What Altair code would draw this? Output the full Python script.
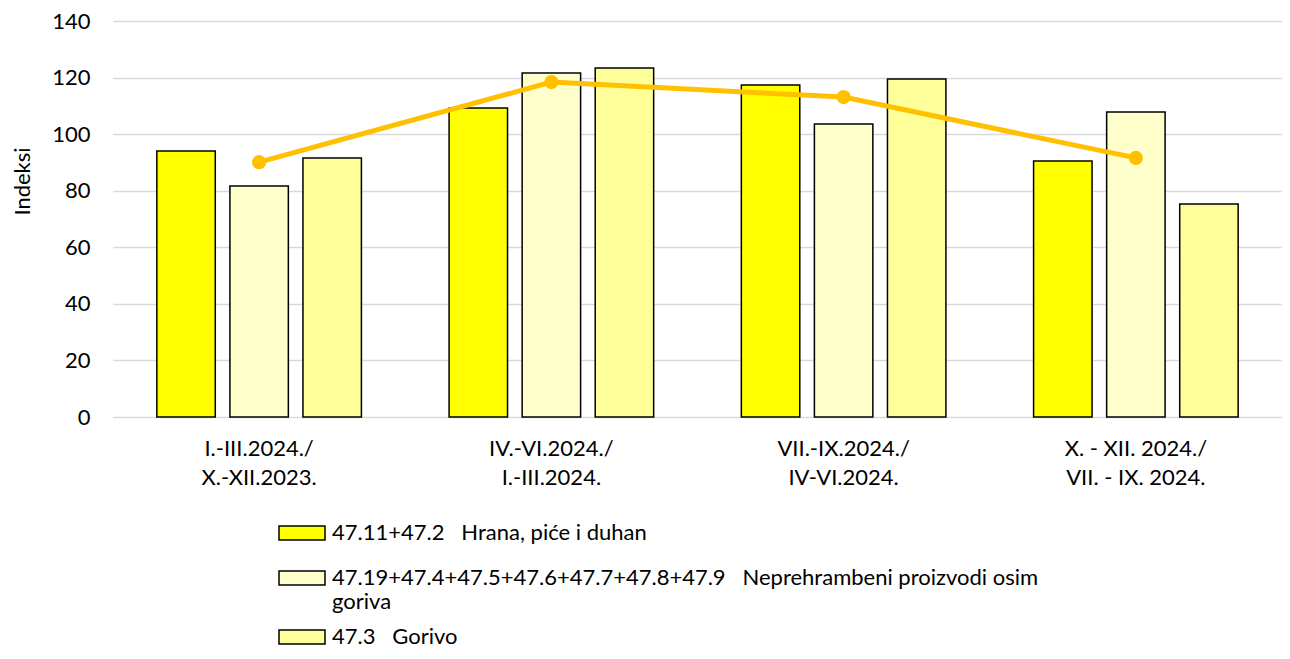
import altair as alt
import pandas as pd

categories = ["I.-III.2024./|X.-XII.2023.", "IV.-VI.2024./|I.-III.2024.",
              "VII.-IX.2024./|IV-VI.2024.", "X. - XII. 2024./|VII. - IX. 2024."]
series = ["47.11+47.2\u00a0\u00a0\u00a0Hrana, piće i duhan",
          "47.19+47.4+47.5+47.6+47.7+47.8+47.9\u00a0\u00a0\u00a0Neprehrambeni proizvodi osim|goriva",
          "47.3\u00a0\u00a0\u00a0Gorivo"]
hrana = [94.0, 109.2, 117.4, 90.5]
neprehrambeni = [81.7, 121.6, 103.6, 107.8]
gorivo = [91.6, 123.4, 119.5, 75.3]
ukupno = [90.1, 118.4, 113.1, 91.6]
colors = ["#FFFF00", "#FFFFCC", "#FFFF99"]

rows = []
for i, c in enumerate(categories):
    for s, vals in zip(series, [hrana, neprehrambeni, gorivo]):
        rows.append({"kat": c, "serija": s, "indeks": vals[i]})
bars_df = pd.DataFrame(rows)
line_df = pd.DataFrame({"kat": categories, "indeks": ukupno})

FONT = "Lato"
FS = 22

x = alt.X("kat:N", sort=categories, title=None,
          scale=alt.Scale(paddingInner=0, paddingOuter=0),
          axis=alt.Axis(labelExpr="split(datum.label, '|')", labelAngle=0,
                        labelFontSize=FS, labelLineHeight=29, labelPadding=21,
                        ticks=False, domain=False, grid=False, labelColor="#000000",
                        labelFont=FONT))

y = alt.Y("indeks:Q", title="Indeksi",
          scale=alt.Scale(domain=[0, 140], nice=False),
          axis=alt.Axis(values=list(range(0, 141, 20)), ticks=False, domain=False,
                        labelPadding=23, labelFontSize=FS, labelFont=FONT,
                        labelColor="#000000", gridColor="#D9D9D9", gridWidth=1.5,
                        titleFontSize=FS, titleFont=FONT, titleFontWeight="normal",
                        titleColor="#000000", titleX=-101, titleY=160,
                        titleAngle=-90, titleAlign="center", titleBaseline="top"))

xoff = alt.XOffset("serija:N", sort=series,
                   scale=alt.Scale(domain=series, paddingInner=0.2, paddingOuter=0.6))


def legend(ly, pad):
    return alt.Legend(title=None, orient="none", legendX=165, legendY=ly,
                      direction="vertical",
                      labelExpr="split(datum.label, '|')",
                      symbolType="M-1,-0.3H1V0.3H-1Z", symbolSize=2116,
                      symbolStrokeColor="#000000", symbolStrokeWidth=1.5,
                      labelFontSize=FS, labelFont=FONT, labelColor="#000000",
                      labelLimit=1000, rowPadding=pad, padding=0, labelOffset=6)


bars1 = alt.Chart(bars_df).transform_filter(
    alt.FieldOneOfPredicate(field="serija", oneOf=series[:1])
).mark_bar(stroke="#000000", strokeWidth=1.5).encode(
    x=x, xOffset=xoff, y=y,
    color=alt.Color("serija:N", scale=alt.Scale(domain=series[:1], range=colors[:1]),
                    legend=legend(488, 0)),
)

bars2 = alt.Chart(bars_df).transform_filter(
    alt.FieldOneOfPredicate(field="serija", oneOf=series[1:])
).mark_bar(stroke="#000000", strokeWidth=1.5).encode(
    x=x, xOffset=xoff, y=y,
    fill=alt.Fill("serija:N", sort=series[1:],
                  scale=alt.Scale(domain=series[1:], range=colors[1:]),
                  legend=legend(533, 0)),
)

line = alt.Chart(line_df).mark_line(
    color="#FFC000", strokeWidth=5,
    point=alt.OverlayMarkDef(color="#FFC000", size=200, filled=True, opacity=1)
).encode(x=x, y=y)

chart = alt.layer(bars1, bars2, line).resolve_scale(
    color="independent", fill="independent"
).properties(
    width=1169, height=396,
    autosize=alt.AutoSizeParams(type="none"),
    padding={"left": 105, "top": 13, "right": 0, "bottom": 234},
).configure_view(stroke=None)

chart.save("out.html", embed_options={"renderer": "svg", "actions": False})
